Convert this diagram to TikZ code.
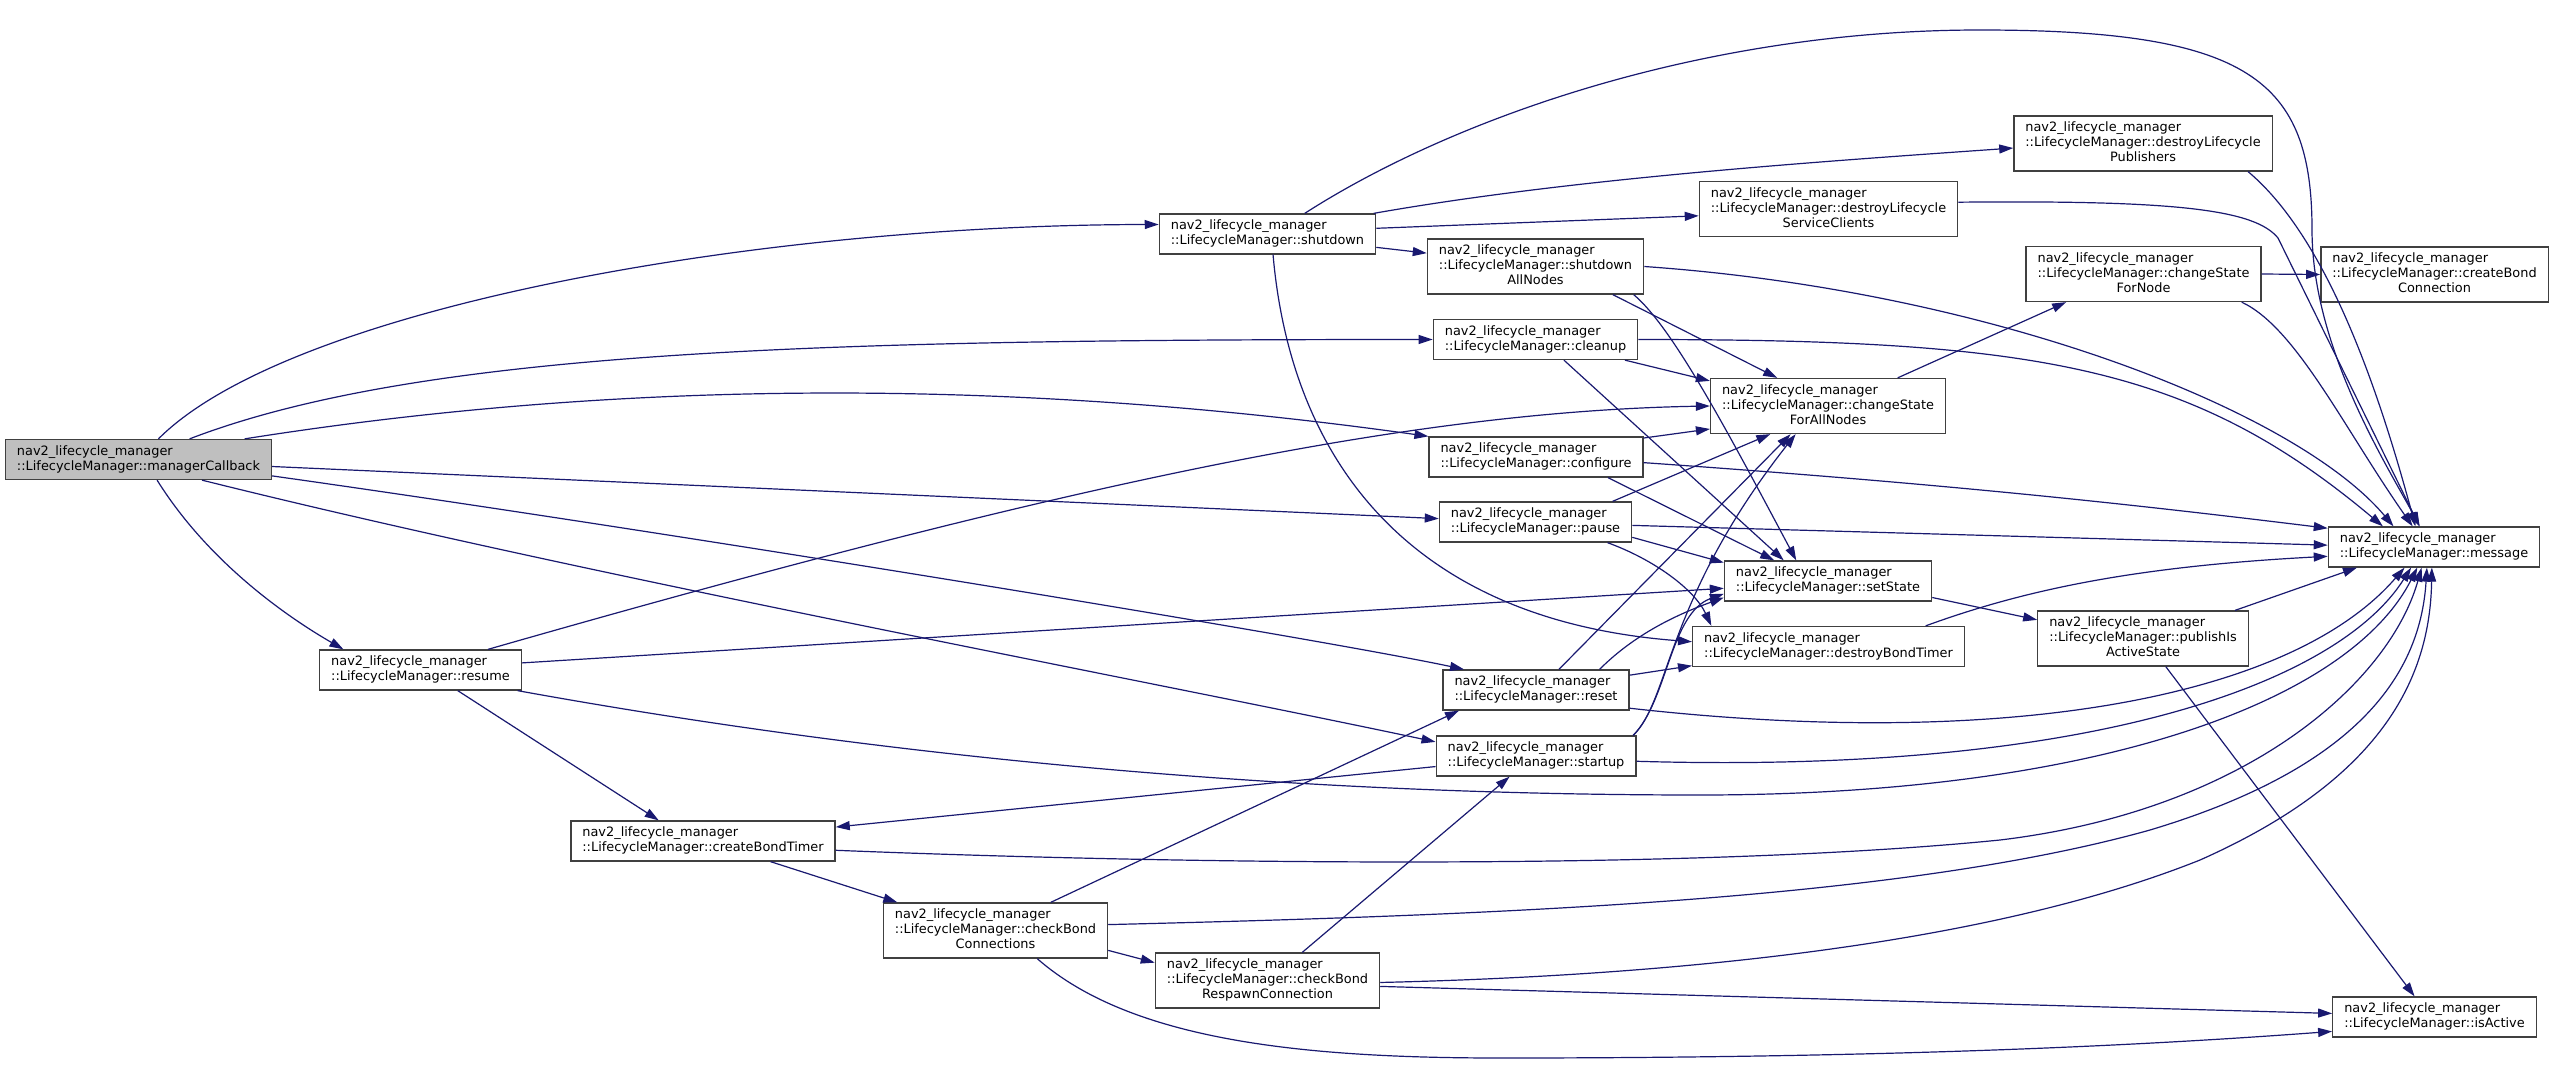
\documentclass[tikz,border=0pt]{standalone}
\usepackage{fontspec}
\setmainfont{DejaVu Sans}
\usetikzlibrary{arrows.meta}
\definecolor{edgeblue}{HTML}{191970}
\definecolor{rootgray}{HTML}{BFBFBF}
\newcommand{\fnlabel}[1]{\begin{tabular}{@{}l@{}}nav2\_lifecycle\_manager\\::LifecycleManager::#1\end{tabular}}
\newcommand{\fnlabelx}[2]{\begin{tabular}{@{}l@{}}nav2\_lifecycle\_manager\\::LifecycleManager::#1\\\multicolumn{1}{@{}c@{}}{#2}\end{tabular}}

\begin{document}
\begin{tikzpicture}[x=1pt, y=1pt,
    fn/.style={draw=black!75, line width=1.3pt, fill=white, inner xsep=11.5pt, inner ysep=5pt,
               font=\fontsize{12.9}{15}\selectfont},
    call/.style={edgeblue, line width=1.2pt, -{Triangle[length=14pt,width=9pt]}}]
    \fill[white] (0,0) rectangle (2553,-1073);
    \useasboundingbox (0,0) rectangle (2553,-1073);

    % Root
    \node[fn, fill=rootgray] (mcb) at (138.5,-459.5) {\fnlabel{managerCallback}};

    % Direct callees
    \node[fn] (sdn) at (1267.5,-234) {\fnlabel{shutdown}};
    \node[fn] (clu) at (1535.5,-339.5) {\fnlabel{cleanup}};
    \node[fn] (cfg) at (1536,-457) {\fnlabel{configure}};
    \node[fn] (pse) at (1535.5,-522) {\fnlabel{pause}};
    \node[fn] (rst) at (1536,-690) {\fnlabel{reset}};
    \node[fn] (stu) at (1536,-756) {\fnlabel{startup}};
    \node[fn] (rsm) at (420.5,-670) {\fnlabel{resume}};

    % Bond timer chain
    \node[fn] (cbt) at (703,-841) {\fnlabel{createBondTimer}};
    \node[fn] (cbc) at (995.5,-930.5) {\fnlabelx{checkBond}{Connections}};
    \node[fn] (cbr) at (1267.5,-980.5) {\fnlabelx{checkBond}{RespawnConnection}};

    % Helpers
    \node[fn] (san) at (1535.5,-266.5) {\fnlabelx{shutdown}{AllNodes}};
    \node[fn] (dsc) at (1828.5,-209) {\fnlabelx{destroyLifecycle}{ServiceClients}};
    \node[fn] (dpb) at (2143,-143.5) {\fnlabelx{destroyLifecycle}{Publishers}};
    \node[fn] (csa) at (1828,-406) {\fnlabelx{changeState}{ForAllNodes}};
    \node[fn] (sst) at (1828,-581) {\fnlabel{setState}};
    \node[fn] (dbt) at (1828.5,-646.5) {\fnlabel{destroyBondTimer}};
    \node[fn] (csn) at (2143.5,-274) {\fnlabelx{changeState}{ForNode}};
    \node[fn] (pia) at (2143,-638.5) {\fnlabelx{publishIs}{ActiveState}};

    % Leaves
    \node[fn] (cbn) at (2434.5,-274.5) {\fnlabelx{createBond}{Connection}};
    \node[fn] (msg) at (2434,-547) {\fnlabel{message}};
    \node[fn] (iac) at (2434.5,-1017) {\fnlabel{isActive}};

    % managerCallback
    \draw[call] (mcb.46) .. controls (288,-309) and (750,-225) .. (sdn.175);
    \draw[call] (mcb.22) .. controls +(21:250) and +(180:600) .. (clu.180);
    \draw[call] (mcb.11) .. controls +(9:400) and +(172:400) .. (cfg.north west);
    \draw[call] (mcb.-3) -- (pse.178);
    \draw[call] (mcb.-7) .. controls +(-8:400) and +(168:150) .. (rst.164);
    \draw[call] (mcb.-18) .. controls +(-14:400) and +(168:300) .. (stu.172);
    \draw[call] (mcb.-48) .. controls +(-58:100) and +(150:60) .. (rsm.165);

    % shutdown
    \draw[call] (sdn.29) .. controls (1450,-120) and (1700,-30) .. (1980,-30)
        .. controls (2250,-30) and (2312,-80) .. (2312,-230)
        .. controls (2312,-350) and (2390,-470) .. (msg.125);
    \draw[call] (sdn.11) .. controls +(10:200) and +(184:200) .. (dpb.182);
    \draw[call] (sdn.3) -- (dsc.183);
    \draw[call] (sdn.-7) -- (san.173);
    \draw[call] (sdn.-75) .. controls (1290,-450) and (1400,-620) .. (dbt.178);

    % shutdownAllNodes and the destroy helpers
    \draw[call] (san.east) .. controls +(-4:350) and +(130:150) .. (msg.153);
    \draw[call] (san.-20) -- (csa.151);
    \draw[call] (san.-16) .. controls +(-40:50) and +(118:150) .. (sst.147);
    \draw[call] (dsc.3) .. controls (2180,-200) and (2255,-210) .. (2278,-238) -- (msg.125);
    \draw[call] (dpb.-15) .. controls +(-40:80) and +(105:200) .. (msg.132);

    % changeState
    \draw[call] (csn.east) -- (cbn.west);
    \draw[call] (csn.-16) .. controls +(-25:60) and +(125:120) .. (msg.136);
    \draw[call] (csa.22) -- (csn.200);

    % cleanup, configure, pause
    \draw[call] (clu.east) .. controls +(0:400) and +(140:250) .. (msg.158);
    \draw[call] (clu.-13) -- (csa.168);
    \draw[call] (clu.-36) -- (sst.155);
    \draw[call] (cfg.-3) .. controls +(-4:300) and +(173:200) .. (msg.170);
    \draw[call] (cfg.10) -- (csa.191);
    \draw[call] (cfg.-16) -- (sst.159);
    \draw[call] (pse.-2) -- (msg.179);
    \draw[call] (pse.15) -- (csa.206);
    \draw[call] (pse.-9) -- (sst.170);
    \draw[call] (pse.-16) .. controls +(-20:50) and +(115:40) .. (dbt.170);

    % reset, startup
    \draw[call] (rst.42) -- (csa.217);
    \draw[call] (rst.18) .. controls +(45:50) and +(200:50) .. (sst.189);
    \draw[call] (rst.9) -- (dbt.188);
    \draw[call] (rst.-11) .. controls (2000,-750) and (2290,-700) .. (msg.215);
    \draw[call] (stu.12) .. controls (1670,-700) and (1665,-600) .. (csa.221);
    \draw[call] (stu.12) .. controls (1668,-700) and (1670,-613) .. (sst.187);
    \draw[call] (stu.-3) .. controls (2100,-775) and (2340,-680) .. (msg.222);
    \draw[call] (stu.186) -- (cbt.6);

    % resume
    \draw[call] (rsm.17) .. controls +(16:600) and +(181:300) .. (csa.180);
    \draw[call] (rsm.4) -- (sst.184);
    \draw[call] (rsm.-12) .. controls (900,-760) and (1300,-795) .. (1700,-795)
        .. controls (2100,-795) and (2350,-700) .. (msg.231);
    \draw[call] (rsm.-29) -- (cbt.155);

    % bond timer chain
    \draw[call] (cbt.-17) -- (cbc.164);
    \draw[call] (cbt.-4) .. controls (1200,-865) and (1700,-870) .. (2000,-840)
        .. controls (2250,-810) and (2390,-680) .. (msg.239);
    \draw[call] (cbc.27) -- (rst.195);
    \draw[call] (cbc.-10) -- (cbr.171);
    \draw[call] (cbc.3) .. controls (1500,-915) and (1900,-900) .. (2150,-830)
        .. controls (2350,-770) and (2420,-680) .. (msg.251);
    \draw[call] (cbc.-34) .. controls (1130,-1040) and (1300,-1058) .. (1500,-1058)
        .. controls (1900,-1058) and (2150,-1045) .. (iac.188);
    \draw[call] (cbr.39) -- (stu.218);
    \draw[call] (cbr.-3) -- (iac.178);
    \draw[call] (cbr.-1) .. controls (1700,-975) and (2000,-940) .. (2200,-860)
        .. controls (2380,-780) and (2430,-680) .. (msg.264);

    % setState, destroyBondTimer, publishIsActiveState
    \draw[call] (sst.-9) -- (pia.170);
    \draw[call] (dbt.12) .. controls +(20:100) and +(183:200) .. (msg.185);
    \draw[call] (pia.17) -- (msg.195);
    \draw[call] (pia.-51) -- (iac.134);
\end{tikzpicture}
\end{document}
